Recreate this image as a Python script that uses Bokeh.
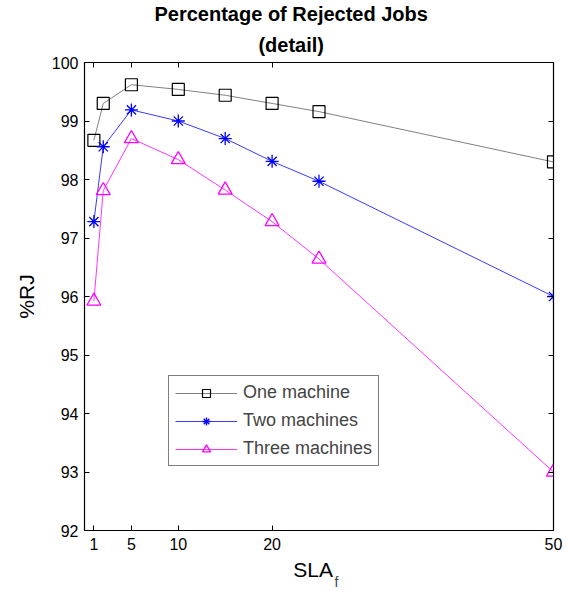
from bokeh.plotting import figure
from bokeh.models import (FixedTicker, LinearAxis, Range1d, Legend, LegendItem, Title)
from bokeh.embed import file_html
from bokeh.resources import INLINE

# ---- data ----
sla_f = [1, 2, 5, 10, 15, 20, 25, 50]
one_machine = [98.67, 99.30, 99.62, 99.54, 99.44, 99.30, 99.16, 98.30]
two_machines = [97.28, 98.56, 99.19, 99.00, 98.70, 98.31, 97.97, 96.00]
three_machines = [95.92, 97.81, 98.70, 98.34, 97.82, 97.28, 96.64, 93.00]
x_ticks = [1, 5, 10, 20, 50]
y_ticks = [92, 93, 94, 95, 96, 97, 98, 99, 100]
series_names = ["One machine", "Two machines", "Three machines"]
title_lines = ["Percentage of Rejected Jobs", "(detail)"]
x_label = "SLA"
x_label_sub = "f"
y_label = "%RJ"

FONT = "Liberation Sans"
NBSP = "\u00a0"

p = figure(width=568, height=592,
           min_border_left=84, min_border_right=15,
           min_border_top=62, min_border_bottom=61,
           x_range=Range1d(0, 50), y_range=Range1d(92, 100),
           output_backend="svg", toolbar_location=None,
           x_axis_location=None, y_axis_location=None)
p.grid.visible = False
p.outline_line_color = "black"
p.outline_line_width = 1.2
p.background_fill_color = "white"
p.border_fill_color = "white"


def style_axis(ax, labels=True):
    ax.major_tick_in = 5
    ax.major_tick_out = 0
    ax.minor_tick_line_color = None
    ax.axis_line_color = "black"
    ax.major_tick_line_color = "black"
    ax.major_label_text_font = FONT
    ax.major_label_text_font_size = "16px"
    ax.major_label_text_color = "black"
    ax.axis_label_text_font = FONT
    ax.axis_label_text_font_style = "normal"
    ax.axis_label_text_color = "black"
    if not labels:
        ax.major_label_text_font_size = "0px"
        ax.major_label_text_alpha = 0


xb = LinearAxis(ticker=FixedTicker(ticks=x_ticks))
style_axis(xb)
xb.major_label_standoff = 7
xb.axis_label = x_label + NBSP * 2
xb.axis_label_text_font_size = "21px"
xb.axis_label_standoff = 5
p.add_layout(xb, "below")

# subscript "f" of the x label, on an invisible extra axis
xs = LinearAxis(ticker=FixedTicker(ticks=[]))
xs.axis_line_color = None
xs.major_tick_line_color = None
xs.minor_tick_line_color = None
xs.major_label_text_font_size = "0px"
xs.axis_label = NBSP * 9 + x_label_sub
xs.axis_label_text_font = FONT
xs.axis_label_text_font_style = "normal"
xs.axis_label_text_font_size = "14px"
xs.axis_label_standoff = -10
p.add_layout(xs, "below")

xt = LinearAxis(ticker=FixedTicker(ticks=x_ticks))
style_axis(xt, labels=False)
p.add_layout(xt, "above")

yl = LinearAxis(ticker=FixedTicker(ticks=y_ticks))
style_axis(yl)
yl.major_label_standoff = 6
yl.axis_label = y_label
yl.axis_label_text_font_size = "21px"
yl.axis_label_standoff = 11
p.add_layout(yl, "left")

yr = LinearAxis(ticker=FixedTicker(ticks=y_ticks))
style_axis(yr, labels=False)
p.add_layout(yr, "right")

l1 = p.line(sla_f, one_machine, line_color="#808080", line_width=1)
m1 = p.scatter(sla_f, one_machine, marker="square", size=12,
               fill_color=None, line_color="black", line_width=1.2)
l2 = p.line(sla_f, two_machines, line_color="#3a3aff", line_width=1)
m2 = p.scatter(sla_f, two_machines, marker="asterisk", size=13,
               line_color="#0000ff", line_width=1.3)
l3 = p.line(sla_f, three_machines, line_color="#ff33ff", line_width=1)
m3 = p.scatter(sla_f, three_machines, marker="triangle", size=14,
               fill_color=None, line_color="#ff00ff", line_width=1.3)

legend = Legend(items=[
    LegendItem(label=series_names[0], renderers=[l1, m1]),
    LegendItem(label=series_names[1], renderers=[l2, m2]),
    LegendItem(label=series_names[2], renderers=[l3, m3]),
], location=(84, 64))
legend.glyph_width = 62
legend.glyph_height = 20
legend.label_height = 20
legend.spacing = 7
legend.padding = 6
legend.margin = 0
legend.label_standoff = 6
legend.label_text_font = FONT
legend.label_text_font_size = "18px"
legend.border_line_color = "black"
legend.border_line_width = 1.2
legend.background_fill_alpha = 1
p.add_layout(legend, "center")

# two-line title: subtitle added first (nearest to the plot)
p.add_layout(Title(text=title_lines[1] + NBSP * 10, align="center",
                   text_font=FONT, text_font_style="bold", text_font_size="20px",
                   text_color="black", standoff=14), "above")
p.add_layout(Title(text=title_lines[0] + NBSP * 10, align="center",
                   text_font=FONT, text_font_style="bold", text_font_size="20px",
                   text_color="black", standoff=0), "above")

open("out.html", "w").write(file_html(p, INLINE))
